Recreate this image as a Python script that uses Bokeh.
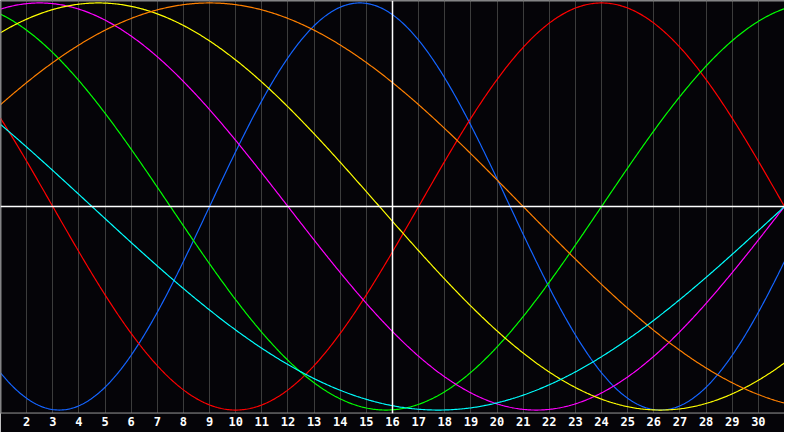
import numpy as np
from bokeh.plotting import figure
from bokeh.models import Range1d, Span, FixedTicker
from bokeh.embed import file_html
from bokeh.resources import INLINE

# Biorhythm cycles (period in days, colour)
cycle_names = ["Physical", "Emotional", "Intellectual", "Intuitive",
               "Aesthetic", "Awareness", "Spiritual"]
cycle_periods = [23, 28, 33, 38, 43, 48, 53]
cycle_colors = ["#1464ff", "#ff0000", "#00ff00", "#ff00ff",
                "#ffff00", "#ff8000", "#00ffff"]
# days lived on day 1 of the month (phase read from zero crossings / peaks)
days_alive_day1 = 14068
month_days = list(range(1, 32))
tick_days = list(range(2, 31))
today = 16

BG = "#050408"
p = figure(width=784, height=432, output_backend="svg", toolbar_location=None,
           x_range=Range1d(1, 31), y_range=Range1d(-1.017, 1.012),
           min_border_left=0, min_border_right=0, min_border_top=0,
           min_border_bottom=19)
p.background_fill_color = BG
p.border_fill_color = BG
p.outline_line_color = None
p.yaxis.visible = False
p.ygrid.visible = False

p.xaxis.ticker = FixedTicker(ticks=tick_days)
p.xgrid.ticker = FixedTicker(ticks=tick_days)
p.xgrid.grid_line_color = "#3c3c3c"
p.xgrid.grid_line_width = 1
p.xaxis.axis_line_color = None
p.xaxis.major_tick_line_color = None
p.xaxis.minor_tick_line_color = None
p.xaxis.major_tick_out = 0
p.xaxis.major_tick_in = 0
p.xaxis.major_label_standoff = 3
p.xaxis.major_label_text_color = "white"
p.xaxis.major_label_text_font = "DejaVu Sans Mono"
p.xaxis.major_label_text_font_style = "bold"
p.xaxis.major_label_text_font_size = "12px"

# frame borders (left, top, bottom)
p.add_layout(Span(location=1.019, dimension="height", line_color="#8a8a8a", line_width=1))
p.add_layout(Span(location=1.0095, dimension="width", line_color="#8a8a8a", line_width=1))
p.add_layout(Span(location=-1.0145, dimension="width", line_color="#8a8a8a", line_width=1))

# today marker and zero line
p.add_layout(Span(location=today, dimension="height", line_color="white", line_width=1.5))
p.add_layout(Span(location=0, dimension="width", line_color="white", line_width=1.5))

d = np.linspace(month_days[0], month_days[-1], 601)
for name, per, col in zip(cycle_names, cycle_periods, cycle_colors):
    t = days_alive_day1 + (d - 1)
    p.line(d, np.sin(2 * np.pi * t / per), line_color=col, line_width=1.2)

open("out.html", "w").write(file_html(p, INLINE))
